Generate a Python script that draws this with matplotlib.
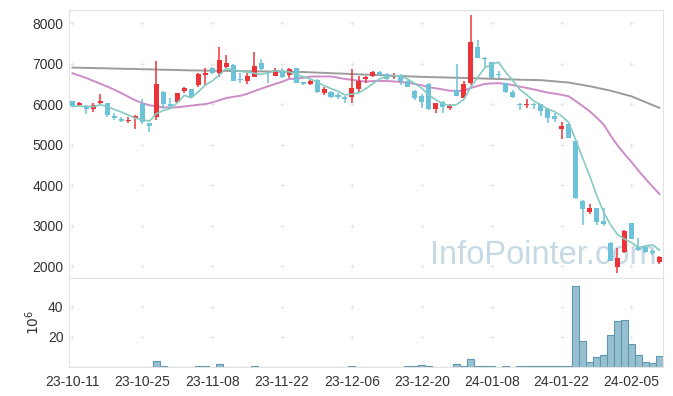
import numpy as np
import pandas as pd
import matplotlib.pyplot as plt

# datos (precio diario)
tick_labels = ['23-10-11', '23-10-25', '23-11-08', '23-11-22', '23-12-06',
               '23-12-20', '24-01-08', '24-01-22', '24-02-05']

opens = [6070, 5975, 5960, 5870, 6020, 6015, 5710, 5620, 5570, 5650,
         6000, 5530, 5680, 6300, 6010, 6045, 6320, 6370, 6470, 6710,
         6890, 6770, 6920, 6960, 6610, 6580, 6675, 7020, 6780, 6690,
         6820, 6715, 6890, 6540, 6490, 6590, 6280, 6290, 6230, 6180,
         6180, 6365, 6625, 6700, 6790, 6740, 6675, 6715, 6575, 6320,
         6200, 6495, 5880, 6050, 5910, 6345, 6160, 6510, 7400, 7110,
         7030, 6740, 6525, 6305, 5980, 5970, 5980, 5990, 5870, 5710,
         5375, 5505, 5090, 3600, 3345, 3425, 3120, 2560, 1970, 2355,
         3060, 2480, 2475, 2360, 2110]
highs = [6080, 6040, 5965, 6015, 6245, 6030, 5770, 5690, 5690, 5720,
         6115, 5540, 7050, 6310, 6160, 6280, 6430, 6380, 6760, 6880,
         6920, 7415, 7210, 7000, 6755, 6755, 7290, 7100, 6790, 6880,
         6880, 6880, 6900, 6545, 6590, 6630, 6410, 6310, 6260, 6190,
         6855, 6690, 6700, 6820, 6810, 6760, 6760, 6730, 6590, 6350,
         6250, 6520, 6030, 6080, 5990, 6980, 6570, 8200, 7580, 7170,
         7040, 6810, 6530, 6340, 6020, 6115, 6020, 6000, 5890, 5770,
         5550, 5520, 5100, 3620, 3525, 3430, 3440, 2600, 2440, 2880,
         3065, 2685, 2490, 2400, 2250]
lows = [5920, 5950, 5760, 5795, 5995, 5690, 5610, 5560, 5520, 5385,
        5515, 5320, 5600, 5870, 5890, 6030, 6265, 6160, 6420, 6470,
        6750, 6660, 6880, 6560, 6525, 6495, 6660, 6840, 6510, 6690,
        6635, 6635, 6520, 6470, 6470, 6280, 6230, 6140, 6120, 6015,
        6015, 6305, 6510, 6675, 6690, 6600, 6610, 6470, 6420, 6100,
        5900, 5850, 5790, 5790, 5840, 6200, 6140, 6470, 7140, 6920,
        6640, 6650, 6280, 6140, 5860, 5900, 5870, 5700, 5540, 5565,
        5130, 5160, 3650, 3010, 3275, 3010, 2990, 2130, 1820, 2330,
        2670, 2370, 2330, 2260, 2040]
closes = [5960, 6015, 5880, 5975, 6080, 5730, 5650, 5570, 5600, 5700,
          5550, 5460, 6490, 6000, 5940, 6260, 6385, 6180, 6740, 6770,
          6775, 7085, 7005, 6580, 6590, 6690, 6940, 6855, 6760, 6840,
          6660, 6855, 6530, 6490, 6565, 6305, 6380, 6165, 6165, 6115,
          6385, 6575, 6660, 6785, 6720, 6610, 6725, 6580, 6430, 6160,
          6060, 5870, 6015, 5920, 5935, 6210, 6485, 7530, 7145, 7100,
          6650, 6720, 6305, 6165, 5970, 5985, 5970, 5820, 5650, 5630,
          5465, 5170, 3690, 3410, 3425, 3095, 3045, 2130, 2190, 2865,
          2670, 2395, 2355, 2330, 2230]
# volumen en millones
volume = [0.2, 0.2, 0.2, 0.2, 0.2, 0.2, 0.2, 0.2, 0.2, 0.2,
          0.2, 0.2, 3.8, 0.7, 0.2, 0.2, 0.2, 0.2, 0.7, 0.7,
          0.2, 2.0, 0.2, 0.2, 0.2, 0.2, 0.7, 0.2, 0.2, 0.2,
          0.2, 0.2, 0.2, 0.2, 0.2, 0.2, 0.2, 0.2, 0.2, 0.2,
          0.7, 0.2, 0.2, 0.2, 0.2, 0.2, 0.2, 0.2, 0.7, 0.7,
          1.3, 0.7, 0.2, 0.2, 0.2, 2.0, 0.7, 5.1, 0.7, 0.7,
          0.7, 0.2, 0.7, 0.2, 0.7, 0.7, 0.7, 0.7, 0.7, 0.7,
          0.7, 0.7, 54.0, 17.3, 3.3, 6.4, 7.8, 21.1, 30.4, 31.1,
          15.1, 7.8, 3.1, 2.4, 7.1]

# medias moviles: inicio (falta historia previa)
ma5_head = [5940, 5950, 5940, 5935]
ma20_head = [6760, 6700, 6640, 6570, 6500, 6430, 6350, 6270, 6180, 6090,
             6020, 5970, 5940, 5920, 5910, 5920, 5940, 5960, 5980]
ma_long_idx = [0, 10, 17, 25, 33, 40, 50, 57, 64, 67, 71, 74, 77, 80, 84]
ma_long = [6900, 6860, 6830, 6810, 6790, 6740, 6670, 6640, 6600, 6590, 6530,
           6440, 6330, 6190, 5905]

up_col = '#ec3338'
down_col = '#6cc2d8'

plt.rcParams['font.family'] = ['Liberation Sans', 'DejaVu Sans']

x = np.arange(len(closes))
o = np.array(opens)
c = np.array(closes)
cs = pd.Series(closes)
ma5 = cs.rolling(5).mean().values
ma5[:4] = ma5_head
ma20 = cs.rolling(20).mean().values
ma20[:19] = ma20_head

fig = plt.figure(figsize=(6.73, 3.96), dpi=100)
ax1 = fig.add_axes([0.1025, 0.298, 0.8825, 0.6767])
ax2 = fig.add_axes([0.1025, 0.0732, 0.8825, 0.2248], sharex=ax1)

colors = [up_col if cc > oo else down_col for oo, cc in zip(o, c)]
body_bot = np.minimum(o, c)
body_h = np.maximum(np.abs(c - o), 30)

ax1.vlines(x, lows, highs, colors=colors, linewidth=1.1, zorder=2)
ax1.bar(x, body_h, bottom=body_bot, width=0.72, color=colors, zorder=3)

ax1.plot(x, ma5, color='#85cbc2', linewidth=1.2, zorder=4)
ax1.plot(x, ma20, color='#cc8cc8', linewidth=1.4, zorder=1)
ax1.plot(ma_long_idx, ma_long, color='#9c9c9c', linewidth=1.4, zorder=1)

ax1.text(0.99, 0.025, 'InfoPointer.com', transform=ax1.transAxes,
         ha='right', va='bottom', fontsize=23.5, color='#c6d9e4', zorder=0,
         family=['Liberation Sans'])

ax2.bar(x, volume, width=1.0, color='#97c1d1', edgecolor='#6197b0',
        linewidth=0.8)

xt = np.arange(0, 81, 10)
ax1.set_xlim(-0.5, 84.5)
ax1.set_ylim(1704, 8321)
ax2.set_ylim(0, 59.3)
ax1.set_yticks([2000, 3000, 4000, 5000, 6000, 7000, 8000])
ax2.set_yticks([20, 40])
ax2.set_xticks(xt)
ax2.set_xticklabels(tick_labels)
ax2.set_ylabel('$10^6$', fontsize=10, color='#333333', labelpad=4)

# cruces de la grilla
for ax in (ax1, ax2):
    for yv in ax.get_yticks():
        ax.scatter(xt, [yv] * len(xt), marker='+', s=12, color='#e4e4e4',
                   linewidths=0.7, zorder=0)
    for s in ax.spines.values():
        s.set_color('#e2e2e2')
    ax.tick_params(length=0, labelsize=10, colors='#333333', pad=4)
    ax.set_facecolor('white')
ax1.tick_params(labelbottom=False)
ax2.tick_params(axis='x', pad=6)

fig.savefig('out.png', dpi=100)
